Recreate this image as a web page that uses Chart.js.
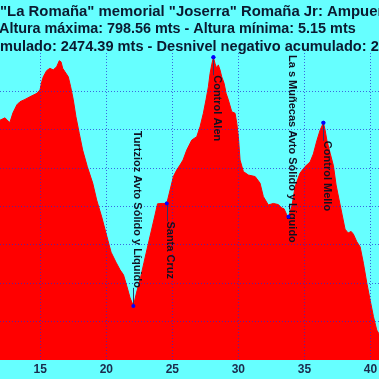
<!DOCTYPE html>
<html>
<head>
<meta charset="utf-8">
<script src="https://cdn.jsdelivr.net/npm/chart.js@4/dist/chart.umd.min.js"></script>
<style>
  html, body { margin: 0; padding: 0; background: #66ffff; overflow: hidden; }
  #wrap { width: 379px; height: 379px; position: relative; }
</style>
</head>
<body>
<div id="wrap"><canvas id="c" width="379" height="379"></canvas></div>
<script>
// ---- data (km, altitude m) ----
const kms = [11.95,12.33,12.55,12.70,12.93,13.23,13.46,13.84,14.22,14.75,14.98,15.11,15.23,15.48,15.73,15.98,16.24,16.44,16.57,16.70,16.87,17.12,17.30,17.50,17.70,17.95,18.21,18.56,18.97,19.27,19.65,19.98,20.36,20.73,21.04,21.30,21.55,21.80,22.05,22.30,22.59,22.86,23.16,23.46,23.69,23.88,24.22,24.58,24.83,25.08,25.33,25.58,25.81,26.09,26.47,26.85,27.10,27.35,27.55,27.73,27.86,27.98,28.11,28.23,28.36,28.48,28.61,28.74,28.92,29.07,29.24,29.50,29.75,29.88,30.00,30.13,30.38,30.76,31.27,31.64,31.89,32.27,32.65,33.03,33.29,33.46,33.67,33.79,34.05,34.30,34.67,35.05,35.43,35.68,35.94,36.19,36.44,36.57,36.70,36.95,37.20,37.40,37.63,37.86,38.08,38.31,38.54,38.71,38.97,39.22,39.47,39.73,39.98,40.23,40.48,40.65];
const alts = [625,631,623,619,644,665,673,679,686,695,704,725,738,754,760,756,764,780,777,760,751,738,712,678,634,591,547,504,461,417,373,330,281,255,235,222,193,162,141,177,214,255,300,344,378,407,408,408,443,478,495,508,521,547,573,582,608,643,678,712,747,769,789,773,760,769,756,738,721,695,678,647,643,617,582,521,491,482,478,461,426,404,408,405,396,394,378,373,400,452,487,504,516,537,571,599,618,599,573,539,506,456,417,378,341,331,335,328,308,295,252,200,156,113,78,68];

const wpNames = ["Turtzioz Avto Sólido y Líquido","Santa Cruz","Control Alen","La s Muñecas Avto Sólido y Líquido","Control Mello"];
const wpKm  = [22.05, 24.58, 28.11, 33.79, 36.44];
const wpAlt = [141, 408, 789, 373, 618];
const wpSide = ["above","below","below","above","below"];

const xTicks = [15, 20, 25, 30, 35, 40];
const yGrid = [100, 200, 300, 400, 500, 600, 700];

const titleLine1 = '"La Romaña" memorial "Joserra" Romaña Jr: Ampuero';
const titleLine2 = 'Altura máxima: 798.56 mts - Altura mínima: 5.15 mts';
const titleLine3pre = 'Desnivel positivo acu';
const titleLine3 = 'Desnivel positivo acumulado: 2474.39 mts - Desnivel negativo acumulado: 2';

const BG = '#66ffff';
const GRID = 'rgba(40,40,210,0.7)';
const TEXT = '#0b1a30';

const bgPlugin = {
  id: 'bg',
  beforeDraw(chart) {
    const ctx = chart.ctx;
    ctx.save();
    ctx.fillStyle = BG;
    ctx.fillRect(0, 0, chart.width, chart.height);
    ctx.restore();
  }
};

const titlePlugin = {
  id: 'titleLines',
  afterDraw(chart) {
    const ctx = chart.ctx;
    ctx.save();
    ctx.fillStyle = TEXT;
    ctx.textBaseline = 'middle';
    ctx.textAlign = 'left';
    ctx.font = 'bold 14.9px "Liberation Sans", Arial, sans-serif';
    ctx.fillText(titleLine1, 0, 12);
    ctx.font = 'bold 14.4px "Liberation Sans", Arial, sans-serif';
    ctx.fillText(titleLine2, -1, 29.5);
    ctx.font = 'bold 14.6px "Liberation Sans", Arial, sans-serif';
    const pre = ctx.measureText(titleLine3pre).width;
    ctx.fillText(titleLine3, -pre, 47);
    ctx.restore();
  }
};

const wpPlugin = {
  id: 'wpLabels',
  afterDraw(chart) {
    const ctx = chart.ctx;
    const meta = chart.getDatasetMeta(1);
    const top = chart.chartArea.top + 2;
    ctx.save();
    ctx.font = 'bold 11px "Liberation Sans", Arial, sans-serif';
    meta.data.forEach((pt, i) => {
      const name = wpNames[i];
      const w = ctx.measureText(name).width;
      let start, lineA, lineB;
      if (wpSide[i] === 'below') {
        start = pt.y + 18; lineA = pt.y; lineB = start;
      } else {
        start = Math.max(top, pt.y - 18 - w); lineA = start + w; lineB = pt.y;
      }
      if (lineB > lineA) {
        ctx.strokeStyle = '#333366';
        ctx.lineWidth = 1;
        ctx.beginPath();
        ctx.moveTo(Math.round(pt.x) + 0.5, lineA);
        ctx.lineTo(Math.round(pt.x) + 0.5, lineB);
        ctx.stroke();
      }
      ctx.save();
      ctx.translate(pt.x + 0.5, start);
      ctx.rotate(Math.PI / 2);
      ctx.fillStyle = '#111122';
      ctx.textAlign = 'left';
      ctx.textBaseline = 'alphabetic';
      ctx.fillText(name, 0, 0);
      ctx.restore();
    });
    ctx.fillStyle = '#0000ff';
    meta.data.forEach((pt) => {
      ctx.beginPath();
      ctx.arc(pt.x, pt.y, 2, 0, Math.PI * 2);
      ctx.fill();
    });
    ctx.restore();
  }
};

new Chart(document.getElementById('c'), {
  type: 'line',
  data: {
    datasets: [
      {
        data: kms.map((k, i) => ({ x: k, y: alts[i] })),
        borderColor: '#ff0000',
        borderWidth: 1,
        backgroundColor: '#ff0000',
        fill: 'origin',
        pointRadius: 0,
        pointHoverRadius: 0,
        tension: 0
      },
      {
        type: 'scatter',
        data: wpKm.map((k, i) => ({ x: k, y: wpAlt[i] })),
        pointRadius: 2,
        pointHoverRadius: 2,
        pointBorderWidth: 0,
        pointBackgroundColor: '#0000ff',
        pointBorderColor: '#0000ff',
        showLine: false
      }
    ]
  },
  options: {
    responsive: false,
    animation: false,
    layout: { autoPadding: false, padding: { top: 53, left: 0, right: 0, bottom: 0 } },
    plugins: { legend: { display: false }, tooltip: { enabled: false }, title: { display: false } },
    scales: {
      x: {
        type: 'linear',
        min: 11.95,
        max: 40.65,
        afterBuildTicks: (s) => { s.ticks = xTicks.map(v => ({ value: v })); },
        afterFit: (s) => { s.height = 19; s.paddingLeft = 0; s.paddingRight = 0; },
        border: { display: false, dash: [1, 2] },
        grid: { color: GRID, drawTicks: false, lineWidth: 1, z: 1 },
        ticks: {
          color: '#1a2b4c',
          font: { family: '"Liberation Sans", Arial, sans-serif', size: 12, weight: 'bold' },
          padding: 2,
          maxRotation: 0
        }
      },
      y: {
        type: 'linear',
        min: 0,
        max: 800,
        afterBuildTicks: (s) => { s.ticks = yGrid.map(v => ({ value: v })); },
        afterFit: (s) => { s.width = 0; },
        border: { display: false, dash: [1, 2] },
        grid: { color: GRID, drawTicks: false, lineWidth: 1, z: 1 },
        ticks: { display: false }
      }
    }
  },
  plugins: [bgPlugin, wpPlugin, titlePlugin]
});
</script>
</body>
</html>
